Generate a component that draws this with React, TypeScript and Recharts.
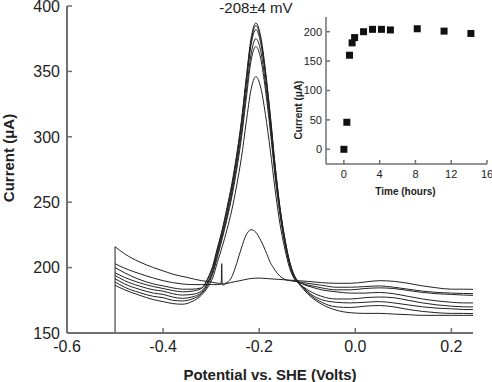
import { LineChart, Line, XAxis, YAxis, ScatterChart, Scatter, ReferenceLine } from "recharts";

// shared potential grid (V vs SHE) for the scans with an analyte peak
const SCAN_POTENTIAL = [
  -0.5, -0.48, -0.45, -0.42, -0.4, -0.38, -0.36, -0.34, -0.32,
  -0.307, -0.297, -0.287, -0.277, -0.267, -0.257, -0.247, -0.237, -0.227, -0.217, -0.207,
  -0.197, -0.187, -0.177, -0.167, -0.157, -0.147, -0.137, -0.127, -0.117, -0.107,
  -0.09, -0.07, -0.04, -0.01, 0.02, 0.05, 0.08, 0.11, 0.14, 0.17, 0.2, 0.225, 0.245
];

// current (uA) per scan
const SCAN_229 = [
  203, 199.5, 195.5, 192, 190, 188.5, 187.5, 187, 187,
  187, 187, 187, 187.5, 188.5, 193, 203, 215, 225, 229, 227,
  221, 213, 204, 198, 193.5, 191, 190, 189.5, 189, 188.5,
  187.5, 186.5, 185, 185, 185.5, 186, 185, 183.5, 182, 181, 180.5, 180.2, 180.1
];
const SCAN_387 = [
  200, 196, 191, 187.5, 186, 184.5, 183.5, 183.5, 184.5,
  192, 201, 215, 229, 246, 264, 286, 312, 345, 375, 387,
  377, 351, 317, 279, 247, 223, 205, 194, 189, 187.5,
  186, 184.5, 183, 183, 184, 184.5, 184, 182.5, 181, 180, 179.5, 179, 178.8
];
const SCAN_385 = [
  196, 192.5, 188.5, 185.5, 184, 182.5, 181.5, 182, 184,
  191, 200, 214, 228, 244, 262, 284.5, 311, 343, 373, 385,
  375, 349, 316, 278, 246, 223, 205, 194, 189, 187,
  185, 183, 181.5, 180.5, 180.5, 181, 180, 178, 176, 174.5, 173.5, 173, 173
];
const SCAN_382 = [
  194, 190, 186, 183, 182, 180, 179, 179.5, 182,
  189, 198, 212, 226, 242, 260, 282, 308, 340, 370, 382,
  372, 347, 313, 276, 245, 221, 204, 193, 188, 185,
  181, 178, 176, 176, 177, 177.5, 177, 175, 173, 171.5, 170.5, 170, 169.9
];
const SCAN_375 = [
  191.6, 187.5, 183.5, 180.5, 179.5, 177.5, 176.5, 177.5, 181,
  188, 196.5, 210, 224, 239, 257, 278, 303, 334, 363, 375,
  366, 341, 309, 273, 243, 220, 203, 192.5, 188, 184.5,
  179, 175.5, 173.5, 173, 173.5, 174, 173, 171.5, 170, 169, 168.5, 168, 167.9
];
const SCAN_369 = [
  189, 185, 181, 178, 177, 175, 174.5, 176, 180,
  186.5, 195, 208, 222, 237, 254, 274.5, 299, 329, 358, 369,
  360, 336, 305, 270, 241, 219, 202.5, 192, 188, 184,
  178, 173.5, 170, 169.5, 170.5, 171, 170, 168, 166.5, 165.5, 165, 165, 164.8
];
const SCAN_346 = [
  186.5, 183, 179, 175.5, 174, 172.5, 172, 174, 179,
  185, 192, 204, 216, 229, 244, 262.5, 284, 311, 336, 346,
  338, 317, 290, 260, 234, 215, 200, 191.5, 187.5, 183,
  177, 172, 167.5, 165.5, 165, 165, 164.5, 164, 163.5, 163.5, 163.5, 163.5, 163.5
];

// blank scan, with the small spike near -0.28 V
const BLANK_POTENTIAL = [
  -0.5, -0.48, -0.45, -0.42, -0.4, -0.38, -0.35, -0.32, -0.3, -0.285, -0.279, -0.278,
  -0.277, -0.275, -0.27, -0.26, -0.24, -0.22, -0.2, -0.18, -0.16, -0.14, -0.12, -0.1,
  -0.07, -0.04, -0.01, 0.02, 0.05, 0.08, 0.11, 0.14, 0.17, 0.2, 0.225, 0.245
];
const BLANK_CURRENT = [
  216, 210.5, 204.5, 200, 197.5, 195, 192.5, 190, 189, 188, 188, 203,
  187.5, 186.5, 187.5, 188.5, 190, 191.5, 192, 191.5, 191, 190.5, 190, 189.5,
  188.5, 188, 188, 189, 190, 189.5, 188, 186, 184.5, 183.5, 183.5, 183.4
];

const POTENTIAL_TICKS = [-0.6, -0.4, -0.2, 0, 0.2];
const CURRENT_TICKS = [150, 200, 250, 300, 350, 400];

// inset: peak current vs time
const TIME_HOURS = [0, 0.33, 0.63, 0.92, 1.2, 2.2, 3.2, 4.2, 5.2, 8.2, 11.2, 14.2];
const PEAK_CURRENT = [0, 46, 160, 181, 190, 200, 204, 204, 203, 205, 201, 197];
const TIME_TICKS = [0, 4, 8, 12, 16];
const INSET_CURRENT_TICKS = [0, 50, 100, 150, 200];

const FONT = '"Liberation Sans", Arial, Helvetica, sans-serif';
const AXIS = "#707070";
const INK = "#222";

const scans = [SCAN_229, SCAN_387, SCAN_385, SCAN_382, SCAN_375, SCAN_369, SCAN_346].map(vals =>
  vals.map((current, i) => ({ potential: SCAN_POTENTIAL[i], current }))
);
const blank = BLANK_POTENTIAL.map((potential, i) => ({ potential, current: BLANK_CURRENT[i] }));
const timeCourse = TIME_HOURS.map((hours, i) => ({ hours, current: PEAK_CURRENT[i] }));

const yTick = (len: number, gap: number, size: number) => (props: any) => {
  const { x, y, payload } = props;
  return (
    <g>
      <line x1={x} x2={x + len} y1={y} y2={y} stroke={AXIS} strokeWidth={1.5} />
      <text x={x - gap} y={y} dy="0.36em" textAnchor="end" fontSize={size} fontFamily={FONT} fill={INK}>
        {payload.value}
      </text>
    </g>
  );
};

const xTick = (len: number, drop: number, size: number, fmt: (v: number) => string) => (props: any) => {
  const { x, y, payload } = props;
  return (
    <g>
      <line x1={x} x2={x} y1={y} y2={y - len} stroke={AXIS} strokeWidth={1.5} />
      <text x={x} y={y + drop} textAnchor="middle" fontSize={size} fontFamily={FONT} fill={INK}>
        {fmt(payload.value)}
      </text>
    </g>
  );
};

export default function App() {
  return (
    <div style={{ position: "fixed", left: 0, top: 0, width: 492, height: 382, background: "#fff" }}>
      <div style={{ position: "absolute", left: 0, top: 0 }}>
        <LineChart width={492} height={382} margin={{ top: 6, right: 19, bottom: 0, left: 0 }}>
          <XAxis
            type="number"
            dataKey="potential"
            domain={[-0.6, 0.245]}
            allowDataOverflow
            ticks={POTENTIAL_TICKS}
            interval={0}
            height={49}
            tickSize={0}
            tickMargin={0}
            tickLine={false}
            axisLine={{ stroke: AXIS, strokeWidth: 2 }}
            tick={xTick(5, 19, 16, v => v.toFixed(1))}
            label={() => (
              <g>
                <text x={270} y={379.5} textAnchor="middle" fontSize={15} fontWeight="bold" fontFamily={FONT} fill={INK}>
                  Potential vs. SHE (Volts)
                </text>
                <text x={256} y={12.5} textAnchor="middle" fontSize={15} fontFamily={FONT} fill={INK}>
                  -208±4 mV
                </text>
              </g>
            )}
          />
          <YAxis
            type="number"
            domain={[150, 400]}
            allowDataOverflow
            ticks={CURRENT_TICKS}
            interval={0}
            width={67}
            tickSize={0}
            tickMargin={0}
            tickLine={false}
            axisLine={{ stroke: AXIS, strokeWidth: 2 }}
            tick={yTick(5, 7, 16)}
            label={() => (
              <text x={14} y={158} transform="rotate(-90 14 158)" textAnchor="middle" fontSize={15} fontWeight="bold" fontFamily={FONT} fill={INK}>
                Current (μA)
              </text>
            )}
          />
          <ReferenceLine
            segment={[
              { x: BLANK_POTENTIAL[0], y: CURRENT_TICKS[0] },
              { x: BLANK_POTENTIAL[0], y: BLANK_CURRENT[0] }
            ]}
            stroke={INK}
            strokeWidth={1}
          />
          <Line data={blank} dataKey="current" type="monotone" stroke={INK} strokeWidth={1} dot={false} isAnimationActive={false} />
          {scans.map((d, i) => (
            <Line key={i} data={d} dataKey="current" type="monotone" stroke={INK} strokeWidth={1} dot={false} isAnimationActive={false} />
          ))}
        </LineChart>
      </div>
      <div style={{ position: "absolute", left: 280, top: 0 }}>
        <ScatterChart width={212} height={200} margin={{ top: 17, right: 5, bottom: 0, left: 0 }}>
          <XAxis
            type="number"
            dataKey="hours"
            domain={[-2, 16]}
            ticks={TIME_TICKS}
            interval={0}
            height={36}
            tickSize={0}
            tickMargin={0}
            tickLine={false}
            axisLine={{ stroke: AXIS, strokeWidth: 1.5 }}
            tick={xTick(4, 14, 11, v => String(v))}
            label={() => (
              <text x={125.5} y={195} textAnchor="middle" fontSize={10} fontWeight="bold" fontFamily={FONT} fill={INK}>
                Time (hours)
              </text>
            )}
          />
          <YAxis
            type="number"
            dataKey="current"
            domain={[-25, 225]}
            ticks={INSET_CURRENT_TICKS}
            interval={0}
            width={46}
            tickSize={0}
            tickMargin={0}
            tickLine={false}
            axisLine={{ stroke: AXIS, strokeWidth: 1.5 }}
            tick={yTick(4, 4, 11)}
            label={() => (
              <text x={22} y={110} transform="rotate(-90 22 110)" textAnchor="middle" fontSize={10} fontWeight="bold" fontFamily={FONT} fill={INK}>
                Current (μA)
              </text>
            )}
          />
          <Scatter
            data={timeCourse}
            isAnimationActive={false}
            shape={(p: any) => <rect x={p.cx - 3.5} y={p.cy - 3.5} width={7} height={7} fill="#111" />}
          />
        </ScatterChart>
      </div>
    </div>
  );
}
